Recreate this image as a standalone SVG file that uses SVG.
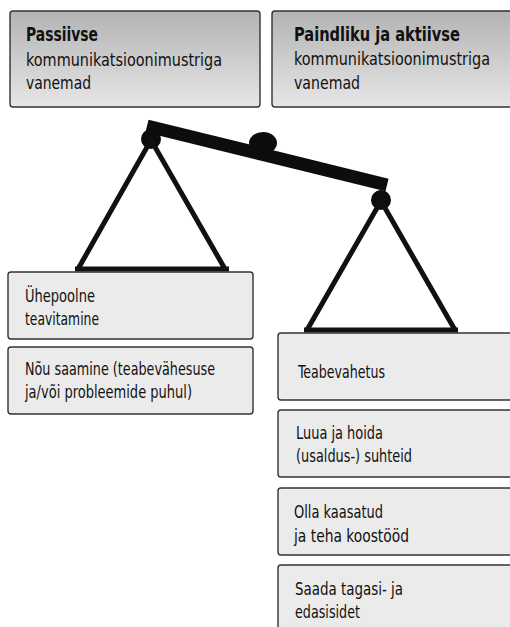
<svg xmlns="http://www.w3.org/2000/svg" width="510" height="627" viewBox="0 0 510 627">
  <defs>
    <linearGradient id="headFill" x1="0" y1="0" x2="0" y2="1">
      <stop offset="0" stop-color="#b3b3b3"/>
      <stop offset="1" stop-color="#e6e6e6"/>
    </linearGradient>
    <style>
      .head { fill: url(#headFill); stroke: #333; stroke-width: 1.4; }
      .item { fill: #ebebeb; stroke: #333; stroke-width: 1.4; }
      text { font-family: "Liberation Sans Narrow", "DejaVu Sans Condensed", sans-serif; fill: #111; }
      .t { font-size: 18.5px; }
      .h { font-size: 17.5px; }
      .b { font-size: 19.5px; font-weight: bold; }
      .rod { stroke: #111; stroke-width: 5; fill: none; }
    </style>
  </defs>
  <rect width="510" height="627" fill="#fff"/>

  <!-- header: passive pattern -->
  <g id="head-passive">
    <rect class="head" x="10" y="11" width="250" height="96" rx="3"/>
    <text class="b" x="26" y="41" textLength="72" lengthAdjust="spacingAndGlyphs">Passiivse</text>
    <text class="h" x="26" y="66" textLength="196" lengthAdjust="spacingAndGlyphs">kommunikatsioonimustriga</text>
    <text class="h" x="26" y="89" textLength="65" lengthAdjust="spacingAndGlyphs">vanemad</text>
  </g>

  <!-- header: flexible and active pattern -->
  <g id="head-active">
    <rect class="head" x="272" y="11" width="241" height="96" rx="3"/>
    <text class="b" x="294" y="41" textLength="166" lengthAdjust="spacingAndGlyphs">Paindliku ja aktiivse</text>
    <text class="h" x="294" y="65" textLength="196" lengthAdjust="spacingAndGlyphs">kommunikatsioonimustriga</text>
    <text class="h" x="294" y="89" textLength="66" lengthAdjust="spacingAndGlyphs">vanemad</text>
  </g>

  <!-- balance scale -->
  <g id="scale">
    <line x1="147" y1="126" x2="387" y2="185" stroke="#0d0d0d" stroke-width="13"/>
    <ellipse cx="263" cy="143" rx="14" ry="11" fill="#0d0d0d"/>
    <circle cx="151" cy="139" r="10" fill="#0d0d0d"/>
    <circle cx="381" cy="200" r="10" fill="#0d0d0d"/>
    <polyline class="rod" points="78,269 151,140 225,269"/>
    <line class="rod" x1="75" y1="269" x2="229" y2="269"/>
    <polyline class="rod" points="307,330 381,201 455,330"/>
    <line class="rod" x1="304" y1="330" x2="458" y2="330"/>
  </g>

  <!-- left pan items -->
  <g id="left-1">
    <rect class="item" x="8" y="272" width="245" height="67" rx="3"/>
    <text class="t" x="25" y="302" textLength="70" lengthAdjust="spacingAndGlyphs">Ühepoolne</text>
    <text class="t" x="25" y="325" textLength="74" lengthAdjust="spacingAndGlyphs">teavitamine</text>
  </g>
  <g id="left-2">
    <rect class="item" x="8" y="347" width="245" height="67" rx="3"/>
    <text class="t" x="25" y="375" textLength="190" lengthAdjust="spacingAndGlyphs">Nõu saamine (teabevähesuse</text>
    <text class="t" x="25" y="398" textLength="167" lengthAdjust="spacingAndGlyphs">ja/või probleemide puhul)</text>
  </g>

  <!-- right pan items -->
  <g id="right-1">
    <rect class="item" x="278" y="333" width="235" height="67" rx="3"/>
    <text class="t" x="298" y="378" textLength="87" lengthAdjust="spacingAndGlyphs">Teabevahetus</text>
  </g>
  <g id="right-2">
    <rect class="item" x="278" y="410" width="235" height="67" rx="3"/>
    <text class="t" x="296" y="439" textLength="87" lengthAdjust="spacingAndGlyphs">Luua ja hoida</text>
    <text class="t" x="296" y="462" textLength="116" lengthAdjust="spacingAndGlyphs">(usaldus-) suhteid</text>
  </g>
  <g id="right-3">
    <rect class="item" x="278" y="488" width="235" height="67" rx="3"/>
    <text class="t" x="294" y="518" textLength="89" lengthAdjust="spacingAndGlyphs">Olla kaasatud</text>
    <text class="t" x="294" y="542" textLength="115" lengthAdjust="spacingAndGlyphs">ja teha koostööd</text>
  </g>
  <g id="right-4">
    <rect class="item" x="278" y="565" width="235" height="66" rx="3"/>
    <text class="t" x="295" y="595" textLength="108" lengthAdjust="spacingAndGlyphs">Saada tagasi- ja</text>
    <text class="t" x="295" y="618" textLength="65" lengthAdjust="spacingAndGlyphs">edasisidet</text>
  </g>
</svg>
